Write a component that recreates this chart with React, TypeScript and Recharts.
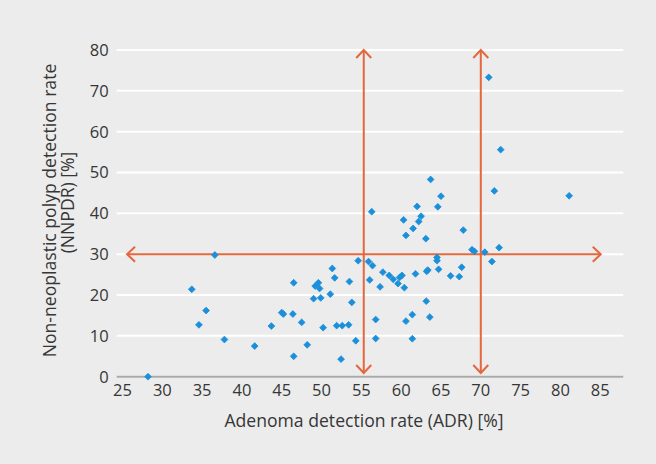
import React from 'react';
import { ScatterChart, Scatter, XAxis, YAxis, CartesianGrid, ReferenceLine } from 'recharts';

const adr = [
  56.3, 36.6, 33.7, 35.5, 34.6, 37.8, 28.2, 41.6, 43.7, 45.0,
  45.2, 46.5, 46.4, 46.5, 47.5, 48.2, 49.0, 49.2, 49.6, 49.75,
  49.9, 50.2, 51.1, 51.35, 51.65, 51.9, 52.6, 52.45, 53.5, 53.4,
  53.8, 54.3, 54.6, 55.9, 56.4, 56.05, 56.8, 56.8, 57.35, 57.7,
  58.5, 59.0, 59.6, 59.8, 60.1, 60.4, 61.8, 63.2, 63.35, 64.5,
  64.5, 64.7, 66.2, 67.3, 67.6, 63.15, 60.6, 61.4, 63.6, 61.4,
  60.3, 62.0, 64.6, 62.5, 62.2, 61.5, 60.6, 63.1, 67.8, 68.9,
  69.2, 70.5, 72.3, 71.4, 71.0, 72.5, 71.7, 81.1, 63.7, 65.0,
];
const nnpdr = [
  40.4, 29.8, 21.4, 16.2, 12.7, 9.1, 0, 7.5, 12.4, 15.7,
  15.35, 23.0, 15.35, 5.0, 13.3, 7.8, 19.1, 22.2, 23.0, 21.6,
  19.3, 12.0, 20.2, 26.5, 24.2, 12.5, 12.5, 4.3, 23.3, 12.7,
  18.2, 8.8, 28.4, 28.2, 27.2, 23.7, 14.0, 9.35, 22.0, 25.6,
  24.8, 23.85, 22.8, 24.3, 24.8, 21.8, 25.2, 25.8, 26.1, 29.2,
  28.4, 26.3, 24.7, 24.5, 26.8, 18.5, 13.6, 15.2, 14.6, 9.3,
  38.4, 41.7, 41.6, 39.3, 38.0, 36.3, 34.6, 33.8, 35.9, 31.1,
  30.7, 30.5, 31.6, 28.2, 73.3, 55.6, 45.5, 44.3, 48.3, 44.2,
];
const xTicks = [25, 30, 35, 40, 45, 50, 55, 60, 65, 70, 75, 80, 85];
const yTicks = [0, 10, 20, 30, 40, 50, 60, 70, 80];
const xDomain = [24.27, 87.9];
const yDomain = [0, 80];
const adrCut1 = 55.3;
const adrCut2 = 70;
const nnpdrCut = 30;
const hLineRange = [25.57, 85.07];
const vLineRange = [0.9, 80];

const xTitle = 'Adenoma detection rate (ADR) [%]';
const yTitle1 = 'Non-neoplastic polyp detection rate';
const yTitle2 = '(NNPDR) [%]';

const data = adr.map((x, i) => ({ adr: x, nnpdr: nnpdr[i] }));

const FONT = '"Open Sans", sans-serif';
const TEXT = '#363636';
const ORANGE = '#e4673d';
const BLUE = '#1b8fda';

const ArrowLine = (props: any) => {
  const { x1, y1, x2, y2 } = props;
  const dx = x2 - x1;
  const dy = y2 - y1;
  const len = Math.sqrt(dx * dx + dy * dy) || 1;
  const ux = dx / len;
  const uy = dy / len;
  const nx = -uy;
  const ny = ux;
  const a = 8;
  const w = 7.5;
  const head = (tx: number, ty: number, sx: number, sy: number) =>
    `${tx + sx * a + nx * w},${ty + sy * a + ny * w} ${tx},${ty} ${tx + sx * a - nx * w},${ty + sy * a - ny * w}`;
  return (
    <g>
      <line x1={x1} y1={y1} x2={x2} y2={y2} stroke={ORANGE} strokeWidth={2} />
      <polyline points={head(x2, y2, -ux, -uy)} fill="none" stroke={ORANGE} strokeWidth={2} />
      <polyline points={head(x1, y1, ux, uy)} fill="none" stroke={ORANGE} strokeWidth={2} />
    </g>
  );
};

const Diamond = (props: any) => {
  const { cx, cy } = props;
  const r = 3.4;
  return (
    <polygon
      points={`${cx},${cy - r} ${cx + r},${cy} ${cx},${cy + r} ${cx - r},${cy}`}
      fill={BLUE}
      stroke={BLUE}
      strokeWidth={0.8}
      strokeLinejoin="round"
    />
  );
};

const XTitle = () => (
  <text x={364} y={427} textAnchor="middle" fill={TEXT} fontSize={17.6} fontFamily={FONT}>
    {xTitle}
  </text>
);

const YTitle = () => (
  <text transform="translate(56, 208) rotate(-90)" textAnchor="middle" fill={TEXT} fontSize={17.6} fontFamily={FONT}>
    <tspan x={-2.5} y={0}>{yTitle1}</tspan>
    <tspan x={5.5} y={17.5}>{yTitle2}</tspan>
  </text>
);

export default function App() {
  return (
    <div style={{ position: 'absolute', left: 0, top: 0, width: 656, height: 464, background: '#ebeceb' }}>
      <ScatterChart
        width={656}
        height={464}
        margin={{ top: 50, right: 32.7, bottom: 57.3, left: 59.7 }}
      >
        <CartesianGrid vertical={false} stroke="#ffffff" strokeWidth={2} />
        <XAxis
          type="number"
          dataKey="adr"
          domain={xDomain}
          ticks={xTicks}
          allowDataOverflow
          height={30}
          axisLine={{ stroke: '#a9a9a9', strokeWidth: 2 }}
          tickLine={false}
          tick={{ fill: TEXT, fontSize: 16.5, fontFamily: FONT }}
          label={{ content: XTitle }}
        />
        <YAxis
          type="number"
          dataKey="nnpdr"
          domain={yDomain}
          ticks={yTicks}
          width={57}
          axisLine={false}
          tickLine={false}
          tick={{ fill: TEXT, fontSize: 16.5, fontFamily: FONT }}
          label={{ content: YTitle }}
        />
        <ReferenceLine
          segment={[{ x: hLineRange[0], y: nnpdrCut }, { x: hLineRange[1], y: nnpdrCut }]}
          shape={ArrowLine}
        />
        <ReferenceLine
          segment={[{ x: adrCut1, y: vLineRange[0] }, { x: adrCut1, y: vLineRange[1] }]}
          shape={ArrowLine}
        />
        <ReferenceLine
          segment={[{ x: adrCut2, y: vLineRange[0] }, { x: adrCut2, y: vLineRange[1] }]}
          shape={ArrowLine}
        />
        <Scatter data={data} shape={Diamond} isAnimationActive={false} />
      </ScatterChart>
    </div>
  );
}
